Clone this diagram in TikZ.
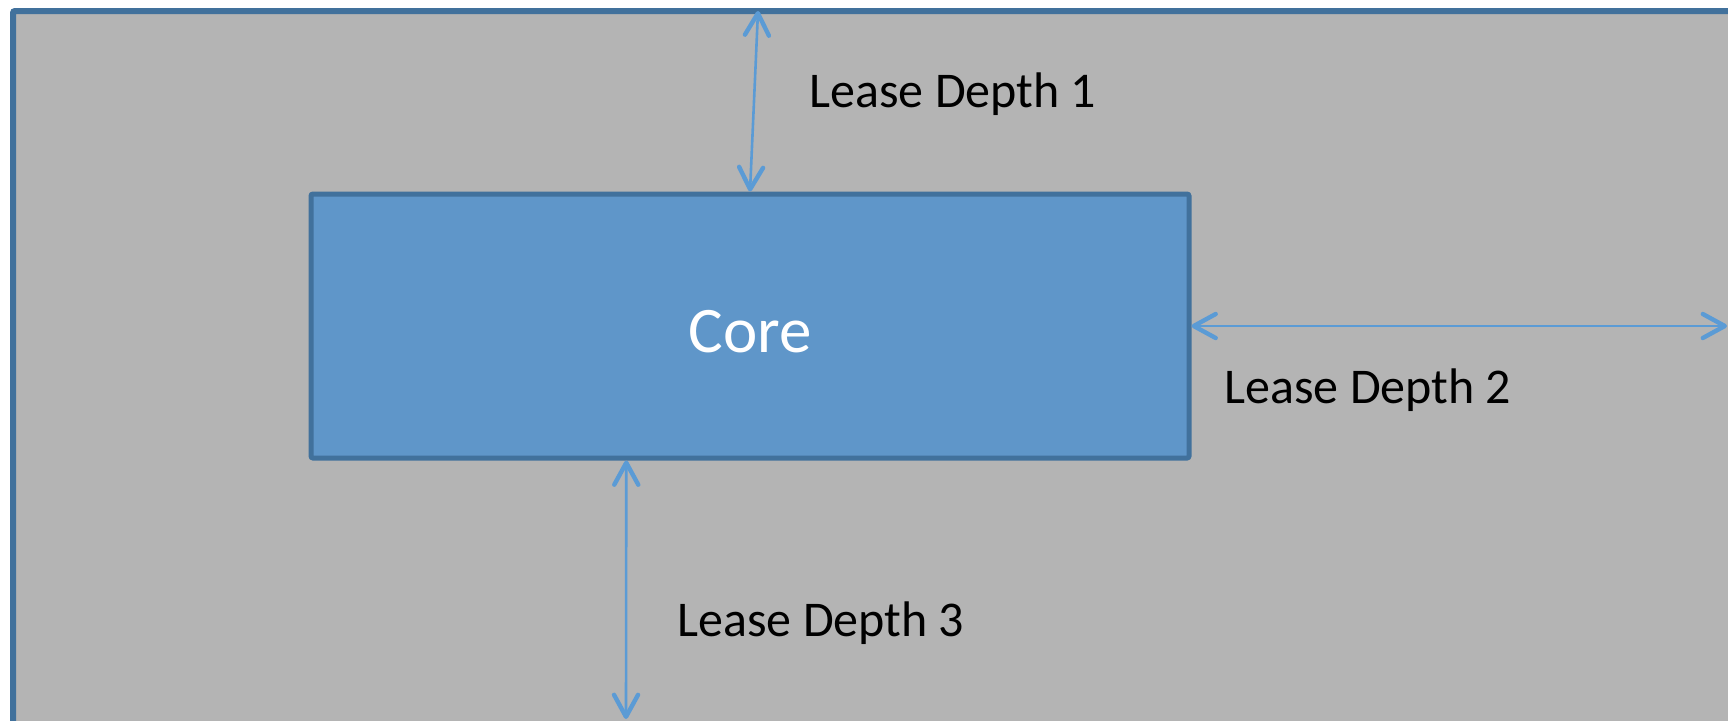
\documentclass[tikz,border=0pt]{standalone}
\usepackage{fontspec}
\setmainfont{Carlito}
\usetikzlibrary{arrows.meta,calc}
\definecolor{floorgray}{RGB}{180,180,180}
\definecolor{edgeblue}{RGB}{65,113,156}
\definecolor{corefill}{RGB}{95,150,201}
\definecolor{dimblue}{RGB}{91,155,213}
\tikzset{
  floorbox/.style={draw=edgeblue,fill=floorgray,line width=3pt,rounded corners=1pt,inner sep=0pt,outer sep=0pt},
  corebox/.style={draw=edgeblue,fill=corefill,line width=2.5pt,rounded corners=1pt,inner sep=0pt},
  dimension/.style={draw=dimblue,line width=1.3pt,
    {Straight Barb[length=11pt,width=12pt,line width=2.2pt,round]}-{Straight Barb[length=11pt,width=12pt,line width=2.2pt,round]}},
  depthlabel/.style={anchor=base west,inner sep=0pt,font=\fontsize{25}{30}\selectfont},
  corelabel/.style={anchor=base,inner sep=0pt,text=white,font=\fontsize{32.5}{39}\selectfont}
}
\begin{document}
\begin{tikzpicture}[x=0.5pt,y=-0.5pt]
  \useasboundingbox (0,0) rectangle (1728,720);
  \clip (0,0) rectangle (1728,720);
  \fill[white] (0,0) rectangle (1728,720);
  % floor plate, running past the right and bottom edges
  \node[floorbox,minimum width=900pt,minimum height=400pt,anchor=north west] (floor) at (13,11) {};
  % building core
  \node[corebox,minimum width=439pt,minimum height=132pt] (core) at (750,326) {};
  \node[corelabel] (coretext) at (750,352) {Core};
  % free ends of the dimension lines
  \coordinate (d1top) at (758,11);
  \coordinate (d2right) at (1727,326);
  \coordinate (d3foot) at (626,719);
  \coordinate (d3head) at ($(core.south west)!0.3599!(core.south east)$);
  \draw[dimension] (d1top) -- (core.north);
  \draw[dimension] (core.east) -- (d2right);
  \draw[dimension] (d3head) -- (d3foot);
  % depth labels
  \node[depthlabel] (lbl1) at (809,107) {Lease Depth 1};
  \node[depthlabel] (lbl2) at (1224,403) {Lease Depth 2};
  \node[depthlabel] (lbl3) at (677,636) {Lease Depth 3};
\end{tikzpicture}
\end{document}
